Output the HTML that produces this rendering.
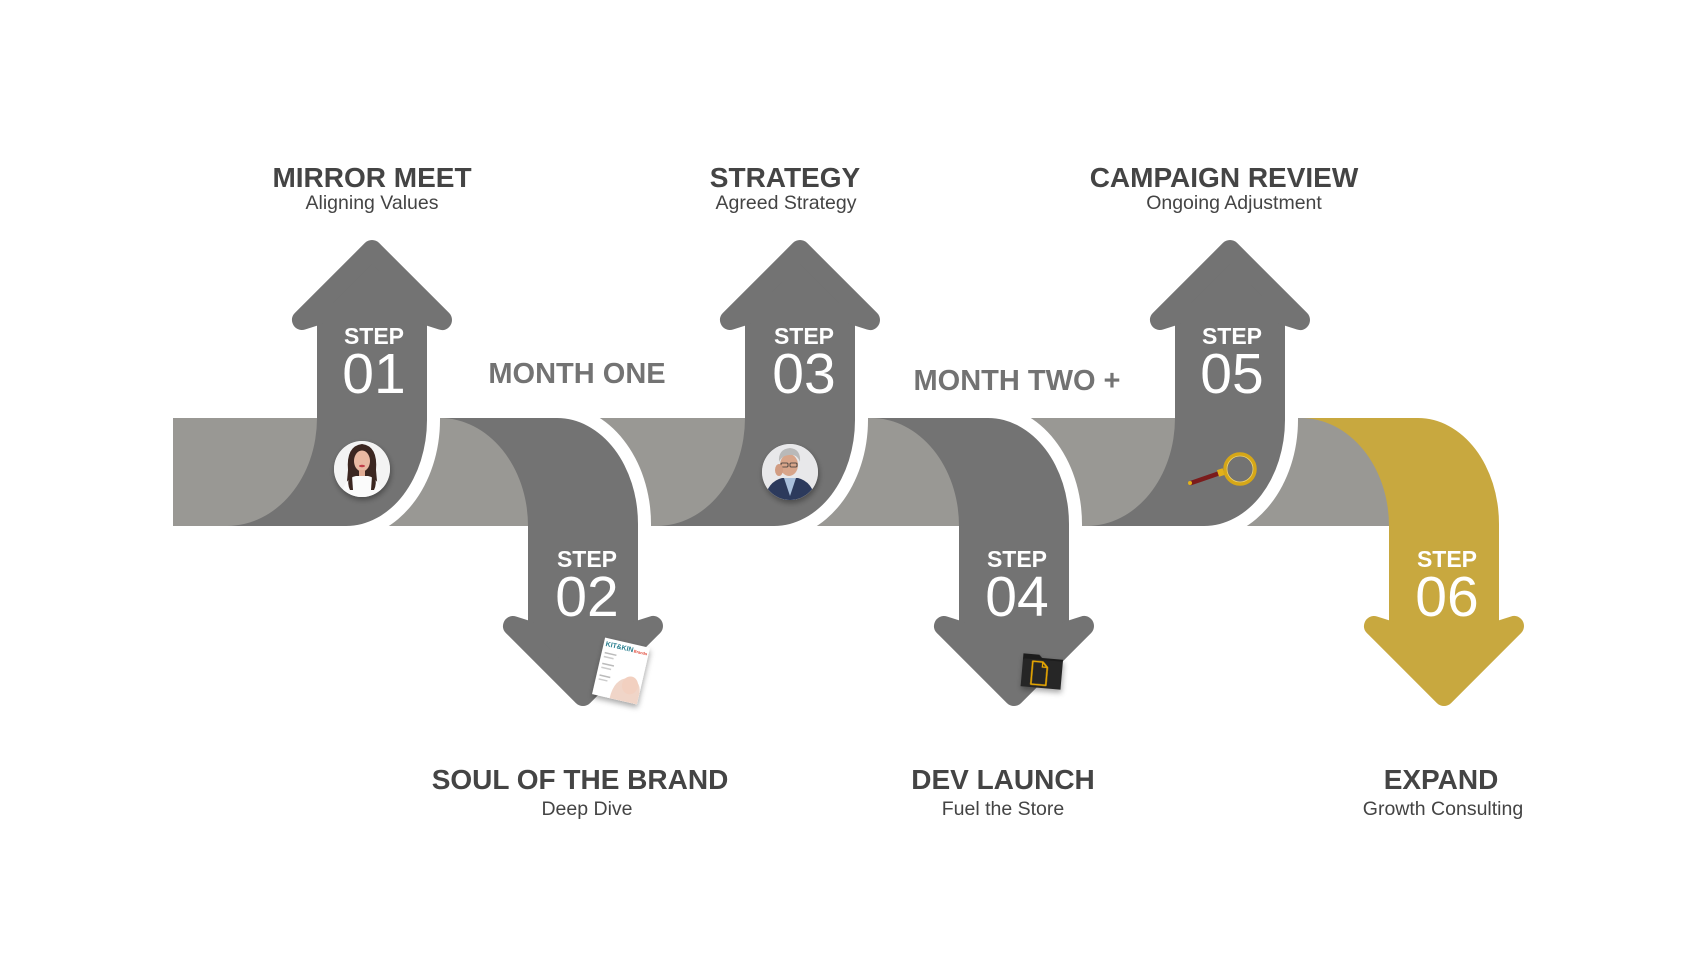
<!DOCTYPE html>
<html>
<head>
<meta charset="utf-8">
<style>
  html,body{margin:0;padding:0;background:#ffffff;}
  body{width:1700px;height:956px;overflow:hidden;}
  svg{display:block;}
  .t{font-family:"Liberation Sans",Arial,sans-serif;}
</style>
</head>
<body>
<svg width="1700" height="956" viewBox="0 0 1700 956" xmlns="http://www.w3.org/2000/svg">
  <defs>
    <filter id="sh" x="-40%" y="-40%" width="180%" height="180%">
      <feDropShadow dx="1" dy="3" stdDeviation="3" flood-color="#000" flood-opacity="0.35"/>
    </filter>
    <clipPath id="c1"><circle cx="362" cy="469" r="28"/></clipPath>
    <clipPath id="c3"><circle cx="790" cy="472" r="28"/></clipPath>
  </defs>

  <!-- band -->
  <rect x="173" y="418" width="1222" height="108" fill="#999894"/>

  <!-- Arrow 01 (up) -->
  <path d="M346,300 L440,300 L440,420 A94 119 0 0 1 346,539 Z" fill="#ffffff"/>
  <path d="M317,322 L317,418 A90 108 0 0 1 227,526 L346,526 A81 106 0 0 0 427,420 L427,322 Z" fill="#737373"/>
  <polygon points="372,250 442,320 420,313 324,313 302,320" fill="#737373" stroke="#737373" stroke-width="20" stroke-linejoin="round"/>

  <!-- Arrow 02 (down) -->
  <path d="M557,700 L557,405 A94 119 0 0 1 651,524 L651,700 Z" fill="#ffffff"/>
  <path d="M440,418 L557,418 A81 106 0 0 1 638,524 L638,630 L528,630 L528,526 A88 108 0 0 0 440,418 Z" fill="#737373"/>
  <polygon points="583,696 653,626 631,633 535,633 513,626" fill="#737373" stroke="#737373" stroke-width="20" stroke-linejoin="round"/>

  <!-- Arrow 03 (up) -->
  <path d="M774,300 L868,300 L868,420 A94 119 0 0 1 774,539 Z" fill="#ffffff"/>
  <path d="M745,322 L745,418 A88 108 0 0 1 657,526 L774,526 A81 106 0 0 0 855,420 L855,322 Z" fill="#737373"/>
  <polygon points="800,250 870,320 848,313 752,313 730,320" fill="#737373" stroke="#737373" stroke-width="20" stroke-linejoin="round"/>

  <!-- Arrow 04 (down) -->
  <path d="M988,700 L988,405 A94 119 0 0 1 1082,524 L1082,700 Z" fill="#ffffff"/>
  <path d="M871,418 L988,418 A81 106 0 0 1 1069,524 L1069,630 L959,630 L959,526 A88 108 0 0 0 871,418 Z" fill="#737373"/>
  <polygon points="1014,696 1084,626 1062,633 966,633 944,626" fill="#737373" stroke="#737373" stroke-width="20" stroke-linejoin="round"/>

  <!-- Arrow 05 (up) -->
  <path d="M1204,300 L1298,300 L1298,420 A94 119 0 0 1 1204,539 Z" fill="#ffffff"/>
  <path d="M1175,322 L1175,418 A88 108 0 0 1 1087,526 L1204,526 A81 106 0 0 0 1285,420 L1285,322 Z" fill="#737373"/>
  <polygon points="1230,250 1300,320 1278,313 1182,313 1160,320" fill="#737373" stroke="#737373" stroke-width="20" stroke-linejoin="round"/>

  <!-- Arrow 06 (down, gold) -->
  <path d="M1301,418 L1418,418 A81 106 0 0 1 1499,524 L1499,630 L1389,630 L1389,526 A88 108 0 0 0 1301,418 Z" fill="#c8a83f"/>
  <polygon points="1444,696 1514,626 1492,633 1396,633 1374,626" fill="#c8a83f" stroke="#c8a83f" stroke-width="20" stroke-linejoin="round"/>

  <!-- Avatar 01 (woman) -->
  <g filter="url(#sh)">
    <circle cx="362" cy="469" r="28" fill="#f3f3f3"/>
  </g>
  <g clip-path="url(#c1)">
    <circle cx="362" cy="469" r="28" fill="#f3f3f3"/>
    <path d="M348,470 Q346,446 362,444 Q378,446 376,470 L378,492 L346,492 Z" fill="#3b2620"/>
    <ellipse cx="362" cy="461" rx="8" ry="10.5" fill="#e9b9a2"/>
    <rect x="359" y="470" width="6" height="6" fill="#e0ac94"/>
    <path d="M340,500 Q344,478 356,476 L368,476 Q380,478 384,500 Z" fill="#fbfbfb"/>
    <path d="M349,476 Q347,484 350,490 L353,490 L352,476 Z" fill="#3b2620"/>
    <path d="M375,476 Q377,484 374,490 L371,490 L372,476 Z" fill="#3b2620"/>
    <ellipse cx="362" cy="466" rx="3" ry="1.3" fill="#c2404a"/>
  </g>

  <!-- Avatar 03 (man) -->
  <g filter="url(#sh)">
    <circle cx="790" cy="472" r="28" fill="#e8e8ea"/>
  </g>
  <g clip-path="url(#c3)">
    <circle cx="790" cy="472" r="28" fill="#e8e8ea"/>
    <path d="M764,504 Q766,482 782,478 L798,478 Q814,482 816,504 Z" fill="#2c3a5c"/>
    <path d="M784,478 L790,496 L796,478 Z" fill="#a9c0dc"/>
    <ellipse cx="789" cy="465" rx="9" ry="11" fill="#d8a58a"/>
    <path d="M779,462 Q778,449 790,448 Q801,449 800,462 Q797,454 790,455 Q782,455 779,462 Z" fill="#b9b9b9"/>
    <rect x="781" y="463" width="7" height="4" rx="1" fill="none" stroke="#333" stroke-width="0.8"/>
    <rect x="790" y="463" width="7" height="4" rx="1" fill="none" stroke="#333" stroke-width="0.8"/>
    <ellipse cx="779" cy="470" rx="4" ry="6" fill="#d19c82"/>
  </g>

  <!-- Magazine (step 02) -->
  <g transform="rotate(13 621 671)">
    <rect x="598" y="642" width="46" height="58" fill="#ffffff" filter="url(#sh)"/>
    <text x="600" y="650" class="t" font-size="7" font-weight="bold" fill="#2a7f8f">KIT&amp;KIN</text>
    <text x="629" y="650" class="t" font-size="4" font-weight="bold" fill="#e04a3a">Brands</text>
    <rect x="601" y="656" width="12" height="1.5" fill="#bbbbbb"/>
    <rect x="601" y="660" width="10" height="1.5" fill="#cccccc"/>
    <rect x="601" y="667" width="12" height="1.5" fill="#bbbbbb"/>
    <rect x="601" y="671" width="10" height="1.5" fill="#cccccc"/>
    <rect x="601" y="679" width="11" height="1.5" fill="#bbbbbb"/>
    <rect x="601" y="683" width="9" height="1.5" fill="#cccccc"/>
    <path d="M616,700 Q616,680 630,676 Q644,676 644,690 L644,700 Z" fill="#f0d5c8"/>
    <ellipse cx="633" cy="683" rx="8" ry="9" fill="#f2d0c0"/>
  </g>

  <!-- Folder (step 04) -->
  <g transform="rotate(5 1042 671)" filter="url(#sh)">
    <path d="M1022,655 L1038,655 L1041,658 L1062,658 L1062,688 L1022,688 Z" fill="#1e1e1e"/>
    <rect x="1022" y="660" width="40" height="28" rx="2" fill="#252525"/>
    <path d="M1032,662 L1042,662 L1047,667 L1047,685 L1032,685 Z" fill="none" stroke="#e9a900" stroke-width="1.6" stroke-linejoin="round"/>
    <path d="M1042,662 L1042,667 L1047,667" fill="none" stroke="#e9a900" stroke-width="1.2"/>
  </g>

  <!-- Magnifier (step 05) -->
  <g>
    <line x1="1191" y1="483" x2="1220" y2="473" stroke="#7b1c1c" stroke-width="4.5" stroke-linecap="round"/>
    <circle cx="1190" cy="483" r="2" fill="#e2b11a"/>
    <rect x="1218" y="469" width="6" height="7" fill="#e2b11a" transform="rotate(-18 1221 473)"/>
    <circle cx="1240" cy="469" r="15" fill="none" stroke="#d6a717" stroke-width="3.5"/>
    <circle cx="1240" cy="469" r="13" fill="none" stroke="#f3d56a" stroke-width="0.8"/>
  </g>

  <!-- STEP labels -->
  <g class="t" fill="#ffffff" text-anchor="middle">
    <text x="374" y="344" font-size="23" font-weight="bold">STEP</text>
    <text x="374" y="393" font-size="57">01</text>
    <text x="587" y="567" font-size="23" font-weight="bold">STEP</text>
    <text x="587" y="616" font-size="57">02</text>
    <text x="804" y="344" font-size="23" font-weight="bold">STEP</text>
    <text x="804" y="393" font-size="57">03</text>
    <text x="1017" y="567" font-size="23" font-weight="bold">STEP</text>
    <text x="1017" y="616" font-size="57">04</text>
    <text x="1232" y="344" font-size="23" font-weight="bold">STEP</text>
    <text x="1232" y="393" font-size="57">05</text>
    <text x="1447" y="567" font-size="23" font-weight="bold">STEP</text>
    <text x="1447" y="616" font-size="57">06</text>
  </g>

  <!-- Month labels -->
  <g class="t" fill="#737373" font-weight="bold" font-size="29" text-anchor="middle">
    <text x="577" y="383">MONTH ONE</text>
    <text x="1017" y="390">MONTH TWO +</text>
  </g>

  <!-- Titles -->
  <g class="t" fill="#444444" text-anchor="middle">
    <text x="372" y="187" font-size="28" font-weight="bold">MIRROR MEET</text>
    <text x="372" y="209" font-size="19.5">Aligning Values</text>
    <text x="785" y="187" font-size="28" font-weight="bold">STRATEGY</text>
    <text x="786" y="209" font-size="19.5">Agreed Strategy</text>
    <text x="1224" y="187" font-size="28" font-weight="bold">CAMPAIGN REVIEW</text>
    <text x="1234" y="209" font-size="19.5">Ongoing Adjustment</text>

    <text x="580" y="789" font-size="28" font-weight="bold">SOUL OF THE BRAND</text>
    <text x="587" y="815" font-size="19.5">Deep Dive</text>
    <text x="1003" y="789" font-size="28" font-weight="bold">DEV LAUNCH</text>
    <text x="1003" y="815" font-size="19.5">Fuel the Store</text>
    <text x="1441" y="789" font-size="28" font-weight="bold">EXPAND</text>
    <text x="1443" y="815" font-size="19.5">Growth Consulting</text>
  </g>
</svg>
</body>
</html>
